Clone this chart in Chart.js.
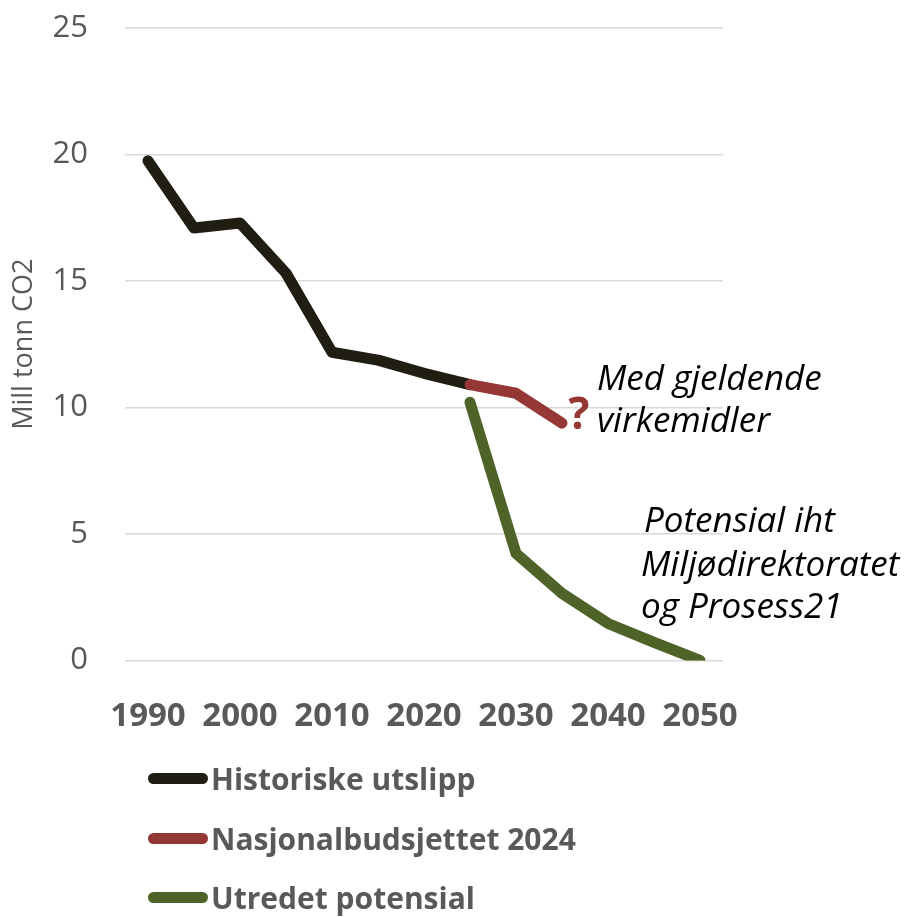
<!DOCTYPE html>
<html>
<head>
<meta charset="utf-8">
<script src="https://cdn.jsdelivr.net/npm/chart.js@4.4.1/dist/chart.umd.min.js"></script>
<style>
  html, body { margin: 0; padding: 0; background: #fff; }
  #wrap { position: relative; width: 907px; height: 917px; }
  #legend { position: absolute; left: 148px; top: 0; font-family: "Open Sans", sans-serif; }
  .row { position: absolute; left: 0; height: 40px; display: flex; align-items: center; white-space: nowrap;
         font-weight: bold; font-size: 30px; color: #595959; }
  .sw { display: inline-block; width: 60px; height: 11px; border-radius: 6px; margin-right: 3px; }
</style>
</head>
<body>
<div id="wrap">
  <canvas id="co2Chart"></canvas>
  <div id="legend"></div>
</div>
<script>
// år, 5-års steg
const years = ["1990","1995","2000","2005","2010","2015","2020","2025","2030","2035","2040","2045","2050"];

const historiske = [19.75, 17.09, 17.29, 15.31, 12.18, 11.87, 11.35, 10.9, null, null, null, null, null];
const nasjonalbudsjett = [null, null, null, null, null, null, null, 10.9, 10.56, 9.38, null, null, null];
const potensial = [null, null, null, null, null, null, null, 10.2, 4.23, 2.65, 1.46, 0.71, 0];

const seriesNames = ["Historiske utslipp", "Nasjonalbudsjettet 2024", "Utredet potensial"];
const seriesColors = ["#201d12", "#953735", "#4f6228"];
const yTicks = [0, 5, 10, 15, 20, 25];

const grey = "#595959";

const textPlugin = {
  id: "notes",
  afterDatasetsDraw(chart) {
    const c = chart.ctx;
    c.save();
    c.fillStyle = "#000";
    c.textBaseline = "middle";
    c.textAlign = "left";
    c.font = "italic 35px 'Open Sans'";
    c.fillText("Med gjeldende", 597, 380);
    c.fillText("virkemidler", 597, 422);
    c.fillText("Potensial iht", 644, 522);
    c.fillText("Miljødirektoratet", 641, 566);
    c.fillText("og Prosess21", 641, 608);
    c.fillStyle = seriesColors[1];
    c.font = "bold 44px 'Open Sans'";
    c.textAlign = "center";
    c.fillText("?", 579, 416);
    c.restore();
  }
};

const ctx = document.getElementById("co2Chart");
const chart = new Chart(ctx, {
  type: "line",
  data: {
    labels: years,
    datasets: [
      { label: seriesNames[0], data: historiske, borderColor: seriesColors[0], order: 2 },
      { label: seriesNames[1], data: nasjonalbudsjett, borderColor: seriesColors[1], order: 1 },
      { label: seriesNames[2], data: potensial, borderColor: seriesColors[2], order: 0 }
    ]
  },
  options: {
    responsive: true,
    maintainAspectRatio: false,
    animation: false,
    spanGaps: false,
    elements: {
      line: { borderWidth: 11, tension: 0, borderCapStyle: "round", borderJoinStyle: "round" },
      point: { radius: 0, hoverRadius: 0 }
    },
    layout: { padding: { top: 28, right: 184, bottom: 153, left: 0 } },
    plugins: { legend: { display: false }, tooltip: { enabled: false } },
    scales: {
      x: {
        offset: true,
        grid: { display: false },
        border: { display: false },
        ticks: {
          autoSkip: false,
          maxRotation: 0,
          padding: 28,
          color: grey,
          font: { family: "Open Sans", size: 33, weight: "bold" },
          callback: (v, i) => (i % 2 === 0 ? years[i] : "")
        }
      },
      y: {
        min: 0,
        max: 25,
        afterBuildTicks: (s) => { s.ticks = yTicks.map(v => ({ value: v })); },
        afterFit: (s) => { s.width = 125; s.paddingTop = 0; s.paddingBottom = 0; },
        grid: { color: "#d9d9d9", lineWidth: 1.5, drawTicks: false },
        border: { display: false },
        ticks: { padding: 37, color: grey, font: { family: "Open Sans", size: 31 } },
        title: {
          display: true,
          text: "Mill tonn CO2",
          color: grey,
          font: { family: "Open Sans", size: 27 },
          padding: { top: 8, bottom: 0 }
        }
      }
    }
  },
  plugins: [textPlugin]
});

// legend under the chart, one row per series
const legendNode = document.getElementById("legend");
const rowTops = [758, 818, 877];
seriesNames.forEach((name, i) => {
  legendNode.insertAdjacentHTML("beforeend",
    `<div class="row" style="top:${rowTops[i]}px"><span class="sw" style="background:${seriesColors[i]}"></span>${name}</div>`);
});
</script>
</body>
</html>
